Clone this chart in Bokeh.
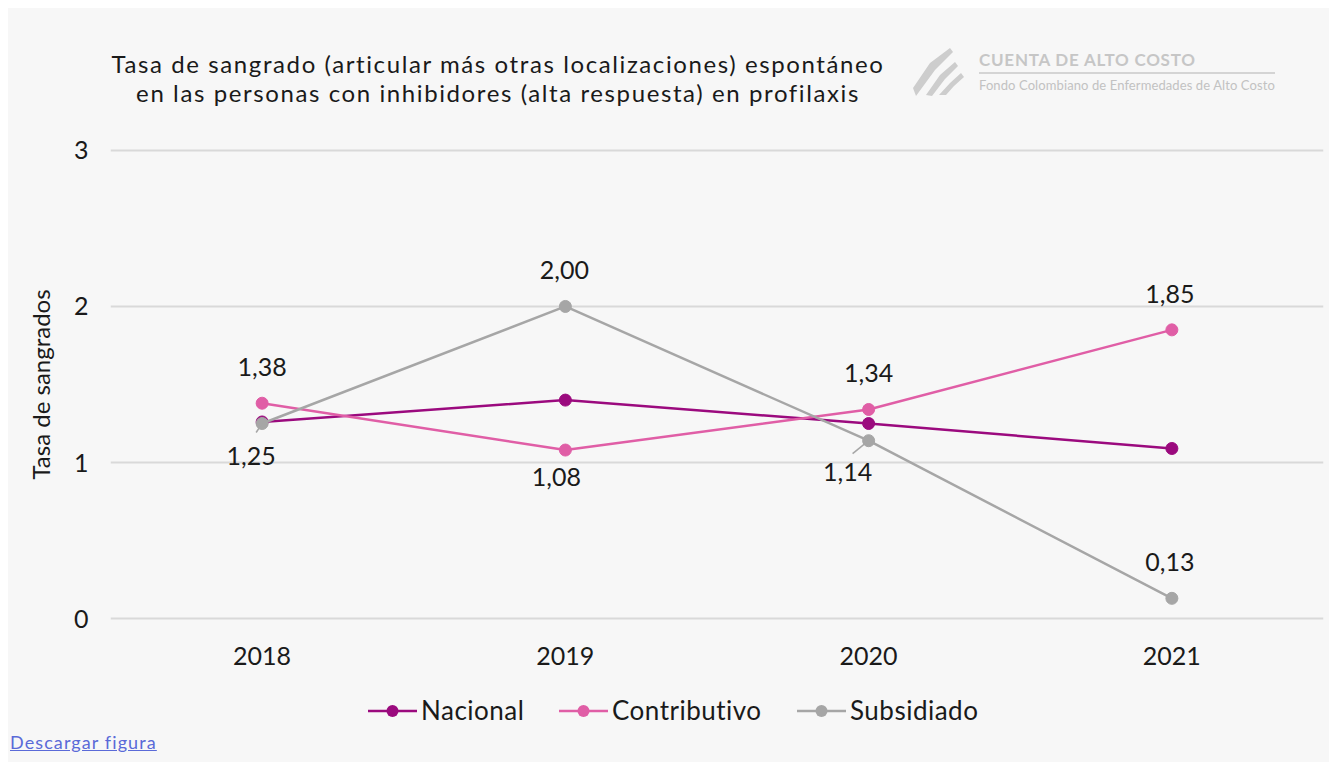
from bokeh.plotting import figure
from bokeh.models import ColumnDataSource, FixedTicker, Range1d, Div
from bokeh.layouts import column
from bokeh.core.properties import value
from bokeh.embed import file_html
from bokeh.resources import INLINE

# ---------------- data ----------------
years = ["2018", "2019", "2020", "2021"]
nacional = [1.26, 1.40, 1.25, 1.09]
contributivo = [1.38, 1.08, 1.34, 1.85]
subsidiado = [1.25, 2.00, 1.14, 0.13]
y_ticks = [0, 1, 2, 3]

title_lines = ["Tasa de sangrado (articular más otras localizaciones) espontáneo",
               "en las personas con inhibidores (alta respuesta) en profilaxis"]
y_label = "Tasa de sangrados"
series_names = ["Nacional", "Contributivo", "Subsidiado"]
logo_title = "CUENTA DE ALTO COSTO"
logo_sub = "Fondo Colombiano de Enfermedades de Alto Costo"
link_text = "Descargar figura"

# label placement (style): which side of the point each value label sits
contrib_side = ["above", "below", "above", "above"]
subs_side = ["below", "above", "below", "above"]

# ---------------- style ----------------
FONT = "Lato"
BG = "#f7f7f7"
C_NAC = "#9b0a7e"
C_CON = "#e05ea6"
C_SUB = "#a6a6a6"
COLORS = [C_NAC, C_CON, C_SUB]
TXT = "#1a1a1a"

W = 1321
HEAD_H, FIG_H, FOOT_H = 112, 560, 82
PAD = 0.012
YPX = 156.1
XPX = 303.25

p = figure(width=W, height=FIG_H, output_backend="svg", toolbar_location=None,
           x_range=Range1d(-0.5, 3.5), y_range=Range1d(-PAD, 3 + PAD),
           min_border_left=102, min_border_right=6,
           min_border_top=28, min_border_bottom=60, margin=0)
p.background_fill_color = BG
p.border_fill_color = BG
p.outline_line_color = None

# axes
p.xaxis.ticker = FixedTicker(ticks=list(range(len(years))))
p.xaxis.major_label_overrides = {i: y for i, y in enumerate(years)}
p.yaxis.ticker = FixedTicker(ticks=y_ticks)
for ax in (p.xaxis[0], p.yaxis[0]):
    ax.axis_line_color = None
    ax.major_tick_line_color = None
    ax.minor_tick_line_color = None
    ax.major_tick_out = 0
    ax.major_tick_in = 0
    ax.minor_tick_out = 0
    ax.major_label_text_font = FONT
    ax.major_label_text_font_size = "25px"
    ax.major_label_text_color = TXT
p.xaxis.major_label_standoff = 26
p.yaxis.major_label_standoff = 22
p.yaxis.axis_label = y_label
p.yaxis.axis_label_text_font = FONT
p.yaxis.axis_label_text_font_size = "24px"
p.yaxis.axis_label_text_font_style = "normal"
p.yaxis.axis_label_text_color = TXT
p.yaxis.axis_label_standoff = 16
p.xgrid.grid_line_color = None
p.ygrid.grid_line_color = "#d9d9d9"
p.ygrid.grid_line_width = 2

xs = list(range(len(years)))
for vals, col in zip([nacional, contributivo, subsidiado], COLORS):
    src = ColumnDataSource(dict(x=xs, y=vals))
    p.line("x", "y", source=src, line_color=col, line_width=2.5)
    p.scatter("x", "y", source=src, size=12, fill_color=col, line_color=col)


def fmt(v):
    return f"{v:.2f}".replace(".", ",")


def label_source(vals, sides, xoffs, below_offs):
    return ColumnDataSource(dict(
        x=xs, y=vals, t=[fmt(v) for v in vals],
        xo=xoffs,
        yo=[-36 if s == "above" else bo for s, bo in zip(sides, below_offs)]))


con_src = label_source(contributivo, contrib_side, [0, -9, 0, -2], [0, 27, 0, 0])
sub_src = label_source(subsidiado, subs_side, [-11, -1, -21, -2], [32, 0, 31, 0])

# leader lines for labels placed below-left
below_idx = [i for i in range(len(years)) if subs_side[i] == "below"]
lead_dx = [-6, -16]
lead_dy = [-9, -13]
lead = ColumnDataSource(dict(
    x0=[xs[i] for i in below_idx],
    y0=[subsidiado[i] for i in below_idx],
    x1=[xs[i] + d / XPX for i, d in zip(below_idx, lead_dx)],
    y1=[subsidiado[i] + d / YPX for i, d in zip(below_idx, lead_dy)],
))
p.segment("x0", "y0", "x1", "y1", source=lead, line_color=C_SUB, line_width=1.5)

for src in (con_src, sub_src):
    p.text("x", "y", text="t", source=src, x_offset="xo", y_offset="yo",
           text_font=value(FONT), text_font_size="25px", text_color=TXT,
           text_align="center", text_baseline="alphabetic")

# ---------------- header (title + logo) ----------------
stripes = [
    [(913, 88), (916, 96), (935, 70), (953, 52), (950, 48), (930, 63)],
    [(926, 95), (932, 96), (945, 79), (958, 66), (955, 62), (940, 75)],
    [(939, 95), (946, 95), (954, 86), (964, 77), (961, 73), (950, 83)],
]
polys = "".join(
    '<polygon points="%s" fill="#cdcdcd"/>' % " ".join(f"{a - 8},{b - 8}" for a, b in s)
    for s in stripes)
header_html = f"""
<div style="position:relative;width:{W}px;height:{HEAD_H}px;font-family:Lato;">
  <div style="position:absolute;left:0;top:40.6px;width:980px;text-align:center;
              font-size:24px;line-height:29px;letter-spacing:1.6px;color:{TXT};white-space:nowrap;">
    {title_lines[0]}<br>{title_lines[1]}
  </div>
  <svg style="position:absolute;left:0;top:0" width="{W}" height="{HEAD_H}">{polys}</svg>
  <div style="position:absolute;left:971px;top:42.9px;font-size:17px;line-height:17px;
              font-weight:bold;letter-spacing:0.75px;color:#c6c6c6;white-space:nowrap;">{logo_title}</div>
  <div style="position:absolute;left:971px;top:64px;width:296px;height:1.6px;
              background:#d4d4d4;"></div>
  <div style="position:absolute;left:971px;top:70.5px;font-size:13px;line-height:13px;
              letter-spacing:0.1px;color:#c2c2c2;white-space:nowrap;">{logo_sub}</div>
</div>
"""
header = Div(text=header_html, width=W, height=HEAD_H, margin=0,
             styles={"background-color": BG})

# ---------------- footer (legend + link) ----------------
FOOT_TOP = 8 + HEAD_H + FIG_H          # page y of footer top
leg_glyph_x = [368, 559, 797]           # page x where each legend glyph starts
leg_y = 711 - FOOT_TOP
leg_parts = []
for name, col, gx in zip(series_names, COLORS, leg_glyph_x):
    x0 = gx - 8
    leg_parts.append(
        f'<svg style="position:absolute;left:{x0}px;top:{leg_y - 10}px" width="49" height="20">'
        f'<line x1="0" y1="10" x2="49" y2="10" stroke="{col}" stroke-width="2.5"/>'
        f'<circle cx="24.5" cy="10" r="6" fill="{col}"/></svg>'
        f'<span style="position:absolute;left:{x0 + 53}px;top:{leg_y - 14}px;font-size:26px;'
        f'line-height:26px;letter-spacing:0.5px;color:{TXT};white-space:nowrap;">{name}</span>')
footer_html = f"""
<div style="position:relative;width:{W}px;height:{FOOT_H}px;font-family:Lato;">
  {''.join(leg_parts)}
  <a href="#" style="position:absolute;left:2px;top:{749 - FOOT_TOP - 16}px;font-size:18px;line-height:18px;
     letter-spacing:1.1px;color:#5a6ad8;text-decoration:underline;white-space:nowrap;">{link_text}</a>
</div>
"""
footer = Div(text=footer_html, width=W, height=FOOT_H, margin=0,
             styles={"background-color": BG})

root = column(header, p, footer, spacing=0, margin=(8, 0, 0, 8),
              styles={"background-color": BG})

open("out.html", "w").write(file_html(root, INLINE))
